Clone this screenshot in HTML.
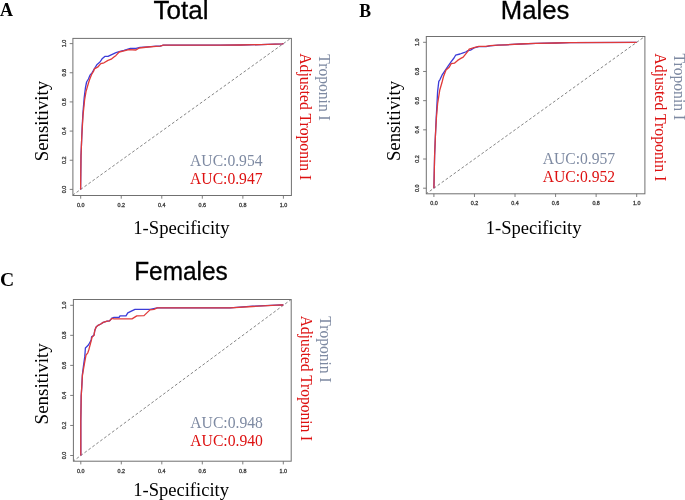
<!DOCTYPE html>
<html><head><meta charset="utf-8"><style>
html,body{margin:0;padding:0;background:#fff;width:685px;height:500px;overflow:hidden}
svg{display:block;will-change:transform}
</style></head><body>
<svg width="685" height="500" viewBox="0 0 685 500">
<rect width="685" height="500" fill="#fff"/>
<clipPath id="cA"><rect x="72.9" y="38.4" width="218.49999999999997" height="157.1"/></clipPath>
<g clip-path="url(#cA)">
<line x1="72.59" y1="195.23" x2="291.51" y2="37.77" stroke="#777" stroke-width="0.9" stroke-dasharray="2.8 2.1"/>
<path d="M80.60 189.50 L81.00 156.00 L81.80 136.00 L82.20 126.40 L83.00 112.00 L84.20 97.60 L85.40 88.00 L86.60 82.00 L88.40 79.00 L90.00 75.20 L92.00 72.80 L94.80 68.00 L96.80 64.80 L100.00 62.00 L102.40 58.40 L104.80 56.40 L108.00 56.40 L111.20 54.80 L116.00 52.60 L119.20 51.60 L124.00 50.40 L130.40 48.40 L136.00 48.40 L140.00 47.40 L148.00 46.80 L156.00 46.20 L160.20 46.20 L163.30 45.20 L220.00 45.20 L240.40 45.00 L260.90 44.60 L282.30 43.90 L283.40 43.60" fill="none" stroke="#3c3cd8" stroke-width="1.3" stroke-linejoin="round"/>
<path d="M80.60 189.50 L81.00 156.00 L81.80 136.00 L83.00 115.60 L84.60 100.00 L86.00 91.60 L88.40 83.20 L89.60 79.50 L91.60 74.40 L93.60 71.20 L94.40 68.80 L97.60 67.20 L100.80 63.60 L104.00 62.80 L108.00 60.40 L111.20 59.20 L113.60 57.20 L116.00 55.40 L119.20 52.00 L124.00 50.80 L128.80 49.60 L136.00 50.00 L139.20 48.00 L148.00 47.00 L156.00 46.40 L160.20 46.20 L163.30 45.20 L220.00 45.20 L240.40 45.00 L260.90 44.60 L282.30 43.90 L283.40 43.60" fill="none" stroke="#e03a3a" stroke-width="1.3" stroke-linejoin="round"/>
</g>
<rect x="72.9" y="38.4" width="218.49999999999997" height="157.1" fill="none" stroke="#707070" stroke-width="1.0"/>
<line x1="80.70" y1="195.5" x2="80.70" y2="198.7" stroke="#707070" stroke-width="0.9"/>
<text x="80.70" y="206.90" font-size="5.4" fill="#3a3a3a" font-family="Liberation Sans, sans-serif" text-anchor="middle" stroke="#3a3a3a" stroke-width="0.3">0.0</text>
<line x1="72.9" y1="189.40" x2="69.7" y2="189.40" stroke="#707070" stroke-width="0.9"/>
<text x="65.60" y="189.40" font-size="5.4" fill="#3a3a3a" font-family="Liberation Sans, sans-serif" text-anchor="middle" stroke="#3a3a3a" stroke-width="0.3" transform="rotate(-90 65.60 189.40)">0.0</text>
<line x1="121.24" y1="195.5" x2="121.24" y2="198.7" stroke="#707070" stroke-width="0.9"/>
<text x="121.24" y="206.90" font-size="5.4" fill="#3a3a3a" font-family="Liberation Sans, sans-serif" text-anchor="middle" stroke="#3a3a3a" stroke-width="0.3">0.2</text>
<line x1="72.9" y1="160.24" x2="69.7" y2="160.24" stroke="#707070" stroke-width="0.9"/>
<text x="65.60" y="160.24" font-size="5.4" fill="#3a3a3a" font-family="Liberation Sans, sans-serif" text-anchor="middle" stroke="#3a3a3a" stroke-width="0.3" transform="rotate(-90 65.60 160.24)">0.2</text>
<line x1="161.78" y1="195.5" x2="161.78" y2="198.7" stroke="#707070" stroke-width="0.9"/>
<text x="161.78" y="206.90" font-size="5.4" fill="#3a3a3a" font-family="Liberation Sans, sans-serif" text-anchor="middle" stroke="#3a3a3a" stroke-width="0.3">0.4</text>
<line x1="72.9" y1="131.08" x2="69.7" y2="131.08" stroke="#707070" stroke-width="0.9"/>
<text x="65.60" y="131.08" font-size="5.4" fill="#3a3a3a" font-family="Liberation Sans, sans-serif" text-anchor="middle" stroke="#3a3a3a" stroke-width="0.3" transform="rotate(-90 65.60 131.08)">0.4</text>
<line x1="202.32" y1="195.5" x2="202.32" y2="198.7" stroke="#707070" stroke-width="0.9"/>
<text x="202.32" y="206.90" font-size="5.4" fill="#3a3a3a" font-family="Liberation Sans, sans-serif" text-anchor="middle" stroke="#3a3a3a" stroke-width="0.3">0.6</text>
<line x1="72.9" y1="101.92" x2="69.7" y2="101.92" stroke="#707070" stroke-width="0.9"/>
<text x="65.60" y="101.92" font-size="5.4" fill="#3a3a3a" font-family="Liberation Sans, sans-serif" text-anchor="middle" stroke="#3a3a3a" stroke-width="0.3" transform="rotate(-90 65.60 101.92)">0.6</text>
<line x1="242.86" y1="195.5" x2="242.86" y2="198.7" stroke="#707070" stroke-width="0.9"/>
<text x="242.86" y="206.90" font-size="5.4" fill="#3a3a3a" font-family="Liberation Sans, sans-serif" text-anchor="middle" stroke="#3a3a3a" stroke-width="0.3">0.8</text>
<line x1="72.9" y1="72.76" x2="69.7" y2="72.76" stroke="#707070" stroke-width="0.9"/>
<text x="65.60" y="72.76" font-size="5.4" fill="#3a3a3a" font-family="Liberation Sans, sans-serif" text-anchor="middle" stroke="#3a3a3a" stroke-width="0.3" transform="rotate(-90 65.60 72.76)">0.8</text>
<line x1="283.40" y1="195.5" x2="283.40" y2="198.7" stroke="#707070" stroke-width="0.9"/>
<text x="283.40" y="206.90" font-size="5.4" fill="#3a3a3a" font-family="Liberation Sans, sans-serif" text-anchor="middle" stroke="#3a3a3a" stroke-width="0.3">1.0</text>
<line x1="72.9" y1="43.60" x2="69.7" y2="43.60" stroke="#707070" stroke-width="0.9"/>
<text x="65.60" y="43.60" font-size="5.4" fill="#3a3a3a" font-family="Liberation Sans, sans-serif" text-anchor="middle" stroke="#3a3a3a" stroke-width="0.3" transform="rotate(-90 65.60 43.60)">1.0</text>
<text x="0.05" y="16.25" font-size="18.5" fill="#000" font-family="Liberation Serif, serif" textLength="13" lengthAdjust="spacingAndGlyphs" font-weight="bold">A</text>
<text x="153.60" y="19.00" font-size="25.5" fill="#000" font-family="Liberation Sans, sans-serif" textLength="55.0" lengthAdjust="spacingAndGlyphs" stroke="#000" stroke-width="0.3">Total</text>
<text x="48.10" y="161.30" font-size="18.7" fill="#000" font-family="Liberation Serif, serif" textLength="80.5" lengthAdjust="spacingAndGlyphs" transform="rotate(-90 48.10 161.30)">Sensitivity</text>
<text x="133.30" y="233.60" font-size="18.6" fill="#000" font-family="Liberation Serif, serif" textLength="96.3" lengthAdjust="spacingAndGlyphs">1-Specificity</text>
<text x="190.10" y="165.60" font-size="16.5" fill="#7e8aa2" font-family="Liberation Serif, serif" textLength="72.4" lengthAdjust="spacingAndGlyphs">AUC:0.954</text>
<text x="190.10" y="183.80" font-size="16.5" fill="#dd1111" font-family="Liberation Serif, serif" textLength="72.4" lengthAdjust="spacingAndGlyphs">AUC:0.947</text>
<text x="319.00" y="54.30" font-size="16.2" fill="#7e8aa2" font-family="Liberation Serif, serif" textLength="66.5" lengthAdjust="spacingAndGlyphs" transform="rotate(90 319.00 54.30)">Troponin I</text>
<text x="300.00" y="53.30" font-size="16.2" fill="#dd1111" font-family="Liberation Serif, serif" textLength="127" lengthAdjust="spacingAndGlyphs" transform="rotate(90 300.00 53.30)">Adjusted Troponin I</text>
<clipPath id="cB"><rect x="426.3" y="36.5" width="218.59999999999997" height="157.3"/></clipPath>
<g clip-path="url(#cB)">
<line x1="425.79" y1="194.04" x2="644.81" y2="36.46" stroke="#777" stroke-width="0.9" stroke-dasharray="2.8 2.1"/>
<path d="M433.90 188.20 L434.60 156.00 L435.40 136.00 L436.20 118.00 L437.00 103.60 L437.60 91.60 L438.80 81.40 L440.00 79.60 L442.00 75.20 L445.20 70.40 L448.40 65.60 L451.20 61.60 L454.00 58.00 L455.60 55.20 L460.00 54.00 L463.20 52.80 L465.60 52.00 L468.00 50.60 L470.50 50.20 L474.00 47.90 L478.80 46.60 L486.00 46.60 L490.00 45.80 L498.00 45.20 L506.00 44.80 L520.40 44.00 L535.80 43.40 L556.20 43.00 L570.00 42.70 L636.70 42.40" fill="none" stroke="#3c3cd8" stroke-width="1.3" stroke-linejoin="round"/>
<path d="M433.90 188.20 L434.60 156.00 L435.40 136.00 L436.40 118.00 L437.60 103.60 L439.80 90.00 L441.90 82.80 L443.50 76.50 L446.00 70.00 L449.20 67.20 L451.20 63.60 L454.40 63.20 L457.60 60.40 L460.80 58.40 L463.20 57.20 L464.80 55.20 L468.00 51.20 L469.20 49.20 L474.00 47.60 L478.80 46.40 L486.00 46.40 L490.00 45.60 L498.00 45.20 L506.00 44.80 L520.40 44.00 L535.80 43.40 L556.20 43.00 L570.00 42.70 L636.70 42.40" fill="none" stroke="#e03a3a" stroke-width="1.3" stroke-linejoin="round"/>
</g>
<rect x="426.3" y="36.5" width="218.59999999999997" height="157.3" fill="none" stroke="#707070" stroke-width="1.0"/>
<line x1="433.90" y1="193.8" x2="433.90" y2="197.0" stroke="#707070" stroke-width="0.9"/>
<text x="433.90" y="205.20" font-size="5.4" fill="#3a3a3a" font-family="Liberation Sans, sans-serif" text-anchor="middle" stroke="#3a3a3a" stroke-width="0.3">0.0</text>
<line x1="426.3" y1="188.20" x2="423.1" y2="188.20" stroke="#707070" stroke-width="0.9"/>
<text x="419.00" y="188.20" font-size="5.4" fill="#3a3a3a" font-family="Liberation Sans, sans-serif" text-anchor="middle" stroke="#3a3a3a" stroke-width="0.3" transform="rotate(-90 419.00 188.20)">0.0</text>
<line x1="474.46" y1="193.8" x2="474.46" y2="197.0" stroke="#707070" stroke-width="0.9"/>
<text x="474.46" y="205.20" font-size="5.4" fill="#3a3a3a" font-family="Liberation Sans, sans-serif" text-anchor="middle" stroke="#3a3a3a" stroke-width="0.3">0.2</text>
<line x1="426.3" y1="159.02" x2="423.1" y2="159.02" stroke="#707070" stroke-width="0.9"/>
<text x="419.00" y="159.02" font-size="5.4" fill="#3a3a3a" font-family="Liberation Sans, sans-serif" text-anchor="middle" stroke="#3a3a3a" stroke-width="0.3" transform="rotate(-90 419.00 159.02)">0.2</text>
<line x1="515.02" y1="193.8" x2="515.02" y2="197.0" stroke="#707070" stroke-width="0.9"/>
<text x="515.02" y="205.20" font-size="5.4" fill="#3a3a3a" font-family="Liberation Sans, sans-serif" text-anchor="middle" stroke="#3a3a3a" stroke-width="0.3">0.4</text>
<line x1="426.3" y1="129.84" x2="423.1" y2="129.84" stroke="#707070" stroke-width="0.9"/>
<text x="419.00" y="129.84" font-size="5.4" fill="#3a3a3a" font-family="Liberation Sans, sans-serif" text-anchor="middle" stroke="#3a3a3a" stroke-width="0.3" transform="rotate(-90 419.00 129.84)">0.4</text>
<line x1="555.58" y1="193.8" x2="555.58" y2="197.0" stroke="#707070" stroke-width="0.9"/>
<text x="555.58" y="205.20" font-size="5.4" fill="#3a3a3a" font-family="Liberation Sans, sans-serif" text-anchor="middle" stroke="#3a3a3a" stroke-width="0.3">0.6</text>
<line x1="426.3" y1="100.66" x2="423.1" y2="100.66" stroke="#707070" stroke-width="0.9"/>
<text x="419.00" y="100.66" font-size="5.4" fill="#3a3a3a" font-family="Liberation Sans, sans-serif" text-anchor="middle" stroke="#3a3a3a" stroke-width="0.3" transform="rotate(-90 419.00 100.66)">0.6</text>
<line x1="596.14" y1="193.8" x2="596.14" y2="197.0" stroke="#707070" stroke-width="0.9"/>
<text x="596.14" y="205.20" font-size="5.4" fill="#3a3a3a" font-family="Liberation Sans, sans-serif" text-anchor="middle" stroke="#3a3a3a" stroke-width="0.3">0.8</text>
<line x1="426.3" y1="71.48" x2="423.1" y2="71.48" stroke="#707070" stroke-width="0.9"/>
<text x="419.00" y="71.48" font-size="5.4" fill="#3a3a3a" font-family="Liberation Sans, sans-serif" text-anchor="middle" stroke="#3a3a3a" stroke-width="0.3" transform="rotate(-90 419.00 71.48)">0.8</text>
<line x1="636.70" y1="193.8" x2="636.70" y2="197.0" stroke="#707070" stroke-width="0.9"/>
<text x="636.70" y="205.20" font-size="5.4" fill="#3a3a3a" font-family="Liberation Sans, sans-serif" text-anchor="middle" stroke="#3a3a3a" stroke-width="0.3">1.0</text>
<line x1="426.3" y1="42.30" x2="423.1" y2="42.30" stroke="#707070" stroke-width="0.9"/>
<text x="419.00" y="42.30" font-size="5.4" fill="#3a3a3a" font-family="Liberation Sans, sans-serif" text-anchor="middle" stroke="#3a3a3a" stroke-width="0.3" transform="rotate(-90 419.00 42.30)">1.0</text>
<text x="359.30" y="16.50" font-size="18.5" fill="#000" font-family="Liberation Serif, serif" textLength="11.8" lengthAdjust="spacingAndGlyphs" font-weight="bold">B</text>
<text x="500.80" y="19.10" font-size="25.5" fill="#000" font-family="Liberation Sans, sans-serif" textLength="68.5" lengthAdjust="spacingAndGlyphs" stroke="#000" stroke-width="0.3">Males</text>
<text x="400.20" y="161.10" font-size="18.7" fill="#000" font-family="Liberation Serif, serif" textLength="80.2" lengthAdjust="spacingAndGlyphs" transform="rotate(-90 400.20 161.10)">Sensitivity</text>
<text x="485.70" y="233.90" font-size="18.6" fill="#000" font-family="Liberation Serif, serif" textLength="95.8" lengthAdjust="spacingAndGlyphs">1-Specificity</text>
<text x="542.70" y="163.60" font-size="16.5" fill="#7e8aa2" font-family="Liberation Serif, serif" textLength="72.4" lengthAdjust="spacingAndGlyphs">AUC:0.957</text>
<text x="542.70" y="182.00" font-size="16.5" fill="#dd1111" font-family="Liberation Serif, serif" textLength="72.4" lengthAdjust="spacingAndGlyphs">AUC:0.952</text>
<text x="674.20" y="53.60" font-size="16.2" fill="#7e8aa2" font-family="Liberation Serif, serif" textLength="66.5" lengthAdjust="spacingAndGlyphs" transform="rotate(90 674.20 53.60)">Troponin I</text>
<text x="655.30" y="53.30" font-size="16.2" fill="#dd1111" font-family="Liberation Serif, serif" textLength="128" lengthAdjust="spacingAndGlyphs" transform="rotate(90 655.30 53.30)">Adjusted Troponin I</text>
<clipPath id="cC"><rect x="73.4" y="299.5" width="217.79999999999998" height="161.7"/></clipPath>
<g clip-path="url(#cC)">
<line x1="72.70" y1="461.51" x2="291.40" y2="299.29" stroke="#777" stroke-width="0.9" stroke-dasharray="2.8 2.1"/>
<path d="M80.80 455.50 L80.80 421.60 L81.20 396.00 L81.80 386.40 L82.40 374.40 L83.60 364.80 L84.80 356.40 L85.40 348.00 L88.40 345.00 L91.20 340.00 L91.60 336.80 L94.00 335.20 L94.80 330.40 L96.00 327.20 L97.60 325.60 L100.80 324.00 L103.20 322.40 L107.20 321.20 L109.60 320.80 L112.00 318.00 L114.00 317.40 L119.10 317.40 L120.00 315.90 L126.00 315.90 L127.80 312.90 L130.80 311.40 L135.00 309.30 L150.00 309.30 L157.30 307.90 L230.20 307.90 L252.60 306.20 L281.50 304.80 L283.30 305.00" fill="none" stroke="#3c3cd8" stroke-width="1.3" stroke-linejoin="round"/>
<path d="M80.80 455.50 L80.80 421.60 L81.20 396.00 L81.80 386.40 L82.40 375.60 L84.20 364.80 L86.00 355.20 L87.80 352.80 L89.00 349.20 L91.40 340.00 L92.00 337.20 L94.00 335.20 L94.80 330.40 L96.00 327.20 L97.60 325.60 L100.80 324.00 L103.20 322.40 L107.20 321.20 L109.60 320.80 L112.00 318.40 L114.00 318.90 L132.00 318.90 L136.80 315.90 L144.00 315.60 L150.00 309.90 L154.00 309.30 L157.30 307.90 L230.20 307.90 L252.60 306.50 L281.50 304.80 L283.30 305.00" fill="none" stroke="#e03a3a" stroke-width="1.3" stroke-linejoin="round"/>
</g>
<rect x="73.4" y="299.5" width="217.79999999999998" height="161.7" fill="none" stroke="#707070" stroke-width="1.0"/>
<line x1="80.80" y1="461.2" x2="80.80" y2="464.4" stroke="#707070" stroke-width="0.9"/>
<text x="80.80" y="472.60" font-size="5.4" fill="#3a3a3a" font-family="Liberation Sans, sans-serif" text-anchor="middle" stroke="#3a3a3a" stroke-width="0.3">0.0</text>
<line x1="73.4" y1="455.50" x2="70.2" y2="455.50" stroke="#707070" stroke-width="0.9"/>
<text x="66.10" y="455.50" font-size="5.4" fill="#3a3a3a" font-family="Liberation Sans, sans-serif" text-anchor="middle" stroke="#3a3a3a" stroke-width="0.3" transform="rotate(-90 66.10 455.50)">0.0</text>
<line x1="121.30" y1="461.2" x2="121.30" y2="464.4" stroke="#707070" stroke-width="0.9"/>
<text x="121.30" y="472.60" font-size="5.4" fill="#3a3a3a" font-family="Liberation Sans, sans-serif" text-anchor="middle" stroke="#3a3a3a" stroke-width="0.3">0.2</text>
<line x1="73.4" y1="425.46" x2="70.2" y2="425.46" stroke="#707070" stroke-width="0.9"/>
<text x="66.10" y="425.46" font-size="5.4" fill="#3a3a3a" font-family="Liberation Sans, sans-serif" text-anchor="middle" stroke="#3a3a3a" stroke-width="0.3" transform="rotate(-90 66.10 425.46)">0.2</text>
<line x1="161.80" y1="461.2" x2="161.80" y2="464.4" stroke="#707070" stroke-width="0.9"/>
<text x="161.80" y="472.60" font-size="5.4" fill="#3a3a3a" font-family="Liberation Sans, sans-serif" text-anchor="middle" stroke="#3a3a3a" stroke-width="0.3">0.4</text>
<line x1="73.4" y1="395.42" x2="70.2" y2="395.42" stroke="#707070" stroke-width="0.9"/>
<text x="66.10" y="395.42" font-size="5.4" fill="#3a3a3a" font-family="Liberation Sans, sans-serif" text-anchor="middle" stroke="#3a3a3a" stroke-width="0.3" transform="rotate(-90 66.10 395.42)">0.4</text>
<line x1="202.30" y1="461.2" x2="202.30" y2="464.4" stroke="#707070" stroke-width="0.9"/>
<text x="202.30" y="472.60" font-size="5.4" fill="#3a3a3a" font-family="Liberation Sans, sans-serif" text-anchor="middle" stroke="#3a3a3a" stroke-width="0.3">0.6</text>
<line x1="73.4" y1="365.38" x2="70.2" y2="365.38" stroke="#707070" stroke-width="0.9"/>
<text x="66.10" y="365.38" font-size="5.4" fill="#3a3a3a" font-family="Liberation Sans, sans-serif" text-anchor="middle" stroke="#3a3a3a" stroke-width="0.3" transform="rotate(-90 66.10 365.38)">0.6</text>
<line x1="242.80" y1="461.2" x2="242.80" y2="464.4" stroke="#707070" stroke-width="0.9"/>
<text x="242.80" y="472.60" font-size="5.4" fill="#3a3a3a" font-family="Liberation Sans, sans-serif" text-anchor="middle" stroke="#3a3a3a" stroke-width="0.3">0.8</text>
<line x1="73.4" y1="335.34" x2="70.2" y2="335.34" stroke="#707070" stroke-width="0.9"/>
<text x="66.10" y="335.34" font-size="5.4" fill="#3a3a3a" font-family="Liberation Sans, sans-serif" text-anchor="middle" stroke="#3a3a3a" stroke-width="0.3" transform="rotate(-90 66.10 335.34)">0.8</text>
<line x1="283.30" y1="461.2" x2="283.30" y2="464.4" stroke="#707070" stroke-width="0.9"/>
<text x="283.30" y="472.60" font-size="5.4" fill="#3a3a3a" font-family="Liberation Sans, sans-serif" text-anchor="middle" stroke="#3a3a3a" stroke-width="0.3">1.0</text>
<line x1="73.4" y1="305.30" x2="70.2" y2="305.30" stroke="#707070" stroke-width="0.9"/>
<text x="66.10" y="305.30" font-size="5.4" fill="#3a3a3a" font-family="Liberation Sans, sans-serif" text-anchor="middle" stroke="#3a3a3a" stroke-width="0.3" transform="rotate(-90 66.10 305.30)">1.0</text>
<text x="0.10" y="285.60" font-size="19.3" fill="#000" font-family="Liberation Serif, serif" textLength="14.2" lengthAdjust="spacingAndGlyphs" font-weight="bold">C</text>
<text x="134.20" y="279.80" font-size="25.5" fill="#000" font-family="Liberation Sans, sans-serif" textLength="93.6" lengthAdjust="spacingAndGlyphs" stroke="#000" stroke-width="0.3">Females</text>
<text x="48.10" y="424.40" font-size="18.7" fill="#000" font-family="Liberation Serif, serif" textLength="81.2" lengthAdjust="spacingAndGlyphs" transform="rotate(-90 48.10 424.40)">Sensitivity</text>
<text x="133.20" y="495.90" font-size="18.6" fill="#000" font-family="Liberation Serif, serif" textLength="95.8" lengthAdjust="spacingAndGlyphs">1-Specificity</text>
<text x="190.30" y="427.80" font-size="16.5" fill="#7e8aa2" font-family="Liberation Serif, serif" textLength="72.6" lengthAdjust="spacingAndGlyphs">AUC:0.948</text>
<text x="190.30" y="445.80" font-size="16.5" fill="#dd1111" font-family="Liberation Serif, serif" textLength="72.6" lengthAdjust="spacingAndGlyphs">AUC:0.940</text>
<text x="320.00" y="316.30" font-size="16.2" fill="#7e8aa2" font-family="Liberation Serif, serif" textLength="66.3" lengthAdjust="spacingAndGlyphs" transform="rotate(90 320.00 316.30)">Troponin I</text>
<text x="301.00" y="315.70" font-size="16.2" fill="#dd1111" font-family="Liberation Serif, serif" textLength="125.5" lengthAdjust="spacingAndGlyphs" transform="rotate(90 301.00 315.70)">Adjusted Troponin I</text>
</svg></body></html>
